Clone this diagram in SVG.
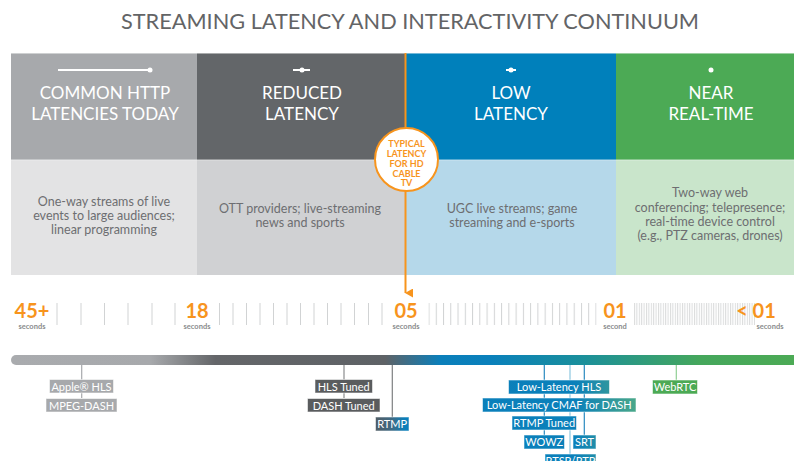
<svg xmlns="http://www.w3.org/2000/svg" width="794" height="461" viewBox="0 0 794 461">
<defs>
<style>
.t{font-family:Lato,"Open Sans","Liberation Sans",sans-serif}
.hd{font-size:17px;fill:#fff;text-anchor:middle}
.bd{font-size:12.5px;fill:#6d6e71;text-anchor:middle}
.num{font-size:20px;font-weight:bold;fill:#f7941d;text-anchor:middle}
.sec{font-size:7.5px;font-weight:bold;fill:#8a8c8e;text-anchor:middle}
.lb{font-size:11px;fill:#fff;text-anchor:middle}
.box{stroke:#fff;stroke-opacity:.55;stroke-width:1}
.cv{font-size:9px;font-weight:bold;fill:#f7941d;text-anchor:middle}
</style>
<linearGradient id="bar" gradientUnits="userSpaceOnUse" x1="11" y1="0" x2="794" y2="0">
<stop offset="0" stop-color="#a9abae"/>
<stop offset="0.178" stop-color="#a7a9ac"/>
<stop offset="0.261" stop-color="#646669"/>
<stop offset="0.478" stop-color="#5e6266"/>
<stop offset="0.548" stop-color="#0b7fba"/>
<stop offset="0.612" stop-color="#0a80bb"/>
<stop offset="0.727" stop-color="#1a8f9c"/>
<stop offset="0.88" stop-color="#45a75c"/>
<stop offset="1" stop-color="#4caa55"/>
</linearGradient>
<linearGradient id="lbg" gradientUnits="userSpaceOnUse" x1="370" y1="0" x2="640" y2="0">
<stop offset="0" stop-color="#58595b"/>
<stop offset="0.081" stop-color="#3d6a85"/>
<stop offset="0.13" stop-color="#0a7fbb"/>
<stop offset="0.759" stop-color="#0b80ba"/>
<stop offset="1" stop-color="#4daa86"/>
</linearGradient>
<pattern id="dense" patternUnits="userSpaceOnUse" x="634" y="303" width="2.4" height="22">
<rect x="0" y="0" width="1" height="22" fill="#d9dadb"/>
</pattern>
<pattern id="mid" patternUnits="userSpaceOnUse" x="428.5" y="303" width="7.26" height="22">
<rect x="0" y="0" width="1" height="22" fill="#d1d3d4"/>
</pattern>
<marker id="arr" markerWidth="9" markerHeight="8" refX="4.5" refY="7.5" orient="auto" markerUnits="userSpaceOnUse" viewBox="0 0 9 8">
<path d="M0 0H9L4.5 8Z" fill="#f7941d"/>
</marker>
</defs>
<rect width="794" height="461" fill="#fff"/>

<text class="t" x="410" y="29" font-size="22" fill="#636466" text-anchor="middle" textLength="578" lengthAdjust="spacingAndGlyphs">STREAMING LATENCY AND INTERACTIVITY CONTINUUM</text>

<g id="col-common">
<rect x="11" y="53" width="186" height="107" fill="#a7a9ac"/>
<rect x="11" y="160" width="186" height="115" fill="#e3e3e4"/>
<line x1="58" y1="70" x2="150" y2="70" stroke="#fff" stroke-width="2"/>
<circle cx="150" cy="70" r="2.5" fill="#fff"/>
<text class="t hd" x="105" y="99">COMMON HTTP</text>
<text class="t hd" x="105" y="120">LATENCIES TODAY</text>
<text class="t bd" x="104" y="206">One-way streams of live</text>
<text class="t bd" x="104" y="220">events to large audiences;</text>
<text class="t bd" x="104" y="234">linear programming</text>
</g>

<g id="col-reduced">
<rect x="197" y="53" width="209" height="107" fill="#636669"/>
<rect x="197" y="160" width="209" height="115" fill="#d0d1d3"/>
<line x1="293" y1="70" x2="310" y2="70" stroke="#fff" stroke-width="2"/>
<circle cx="302" cy="70" r="2.5" fill="#fff"/>
<text class="t hd" x="302" y="99">REDUCED</text>
<text class="t hd" x="302" y="120">LATENCY</text>
<text class="t bd" x="300" y="213">OTT providers; live-streaming</text>
<text class="t bd" x="300" y="227">news and sports</text>
</g>

<g id="col-low">
<rect x="406" y="53" width="210" height="107" fill="#0080bb"/>
<rect x="406" y="160" width="210" height="115" fill="#b5d8ea"/>
<line x1="506" y1="70" x2="516" y2="70" stroke="#fff" stroke-width="2"/>
<circle cx="511" cy="70" r="2.5" fill="#fff"/>
<text class="t hd" x="511" y="99">LOW</text>
<text class="t hd" x="511" y="120">LATENCY</text>
<text class="t bd" x="512" y="213">UGC live streams; game</text>
<text class="t bd" x="512" y="227">streaming and e-sports</text>
</g>

<g id="col-near">
<rect x="616" y="53" width="178" height="107" fill="#4caa55"/>
<rect x="616" y="160" width="178" height="115" fill="#c9e5cb"/>
<circle cx="711" cy="70" r="2.5" fill="#fff"/>
<text class="t hd" x="711" y="99">NEAR</text>
<text class="t hd" x="711" y="120">REAL-TIME</text>
<text class="t bd" x="710" y="197">Two-way web</text>
<text class="t bd" x="710" y="212">conferencing; telepresence;</text>
<text class="t bd" x="710" y="226">real-time device control</text>
<text class="t bd" x="710" y="240">(e.g., PTZ cameras, drones)</text>
</g>
<rect x="11" y="53" width="783" height="1" fill="#fff" fill-opacity=".45"/>
<rect x="11" y="159" width="783" height="1.5" fill="#fff" fill-opacity=".35"/>

<g id="cable-tv">
<line x1="405.5" y1="53" x2="405.5" y2="293" stroke="#f7941d" stroke-width="2" marker-end="url(#arr)"/>
<circle cx="406.5" cy="159.5" r="31.5" fill="#fff" stroke="#f7941d" stroke-width="2"/>
<text class="t cv" x="406.5" y="146.5">TYPICAL</text>
<text class="t cv" x="406.5" y="156.5">LATENCY</text>
<text class="t cv" x="406.5" y="166.5">FOR HD</text>
<text class="t cv" x="406.5" y="176.5">CABLE</text>
<text class="t cv" x="406.5" y="186">TV</text>
</g>

<g id="scale">
<path d="M57 303V325M81 303V325M104.5 303V325M128 303V325M152 303V325M175 303V325M219.5 303V325M233 303V325M246.5 303V325M260 303V325M273.5 303V325M287 303V325M300.5 303V325M314 303V325M327.5 303V325M341 303V325M354.5 303V325M368.5 303V325M382 303V325" stroke="#d1d3d4" stroke-width="1"/>
<rect x="428.5" y="303" width="168" height="22" fill="url(#mid)"/>
<rect x="634" y="303" width="121" height="22" fill="url(#dense)"/>
<text class="t num" x="32" y="318">45+</text>
<text class="t sec" x="32" y="329">seconds</text>
<text class="t num" x="197" y="318">18</text>
<text class="t sec" x="197" y="329">seconds</text>
<text class="t num" x="406" y="318">05</text>
<text class="t sec" x="406" y="329">seconds</text>
<text class="t num" x="615" y="318">01</text>
<text class="t sec" x="615" y="329">second</text>
<text class="t num" x="756" y="318" text-anchor="start">&lt; 01</text>
<text class="t sec" x="770" y="329" text-anchor="start">seconds</text>
<rect x="11" y="355" width="790" height="10" rx="5" fill="url(#bar)"/>
</g>

<g id="connectors" stroke-width="1.2">
<line x1="81.7" y1="365" x2="81.7" y2="398" stroke="#a7a9ac"/>
<line x1="344" y1="365" x2="344" y2="398" stroke="#8a8c8e"/>
<line x1="392.3" y1="365" x2="392.3" y2="417" stroke="#7d7f81"/>
<line x1="544.3" y1="365" x2="544.3" y2="435" stroke="#2a8ac0"/>
<line x1="570" y1="365" x2="570" y2="454" stroke="#8cc6df"/>
<line x1="584.3" y1="365" x2="584.3" y2="435" stroke="#2a8ac0"/>
<line x1="676.3" y1="365" x2="676.3" y2="380" stroke="#8fcf93"/>
</g>

<g id="apple-hls"><rect class="box" x="49.5" y="379.5" width="64" height="13.5" fill="#a7a9ac"/><text class="t lb" x="81.5" y="390.5">Apple® HLS</text></g>
<g id="mpeg-dash"><rect class="box" x="46" y="398.5" width="71" height="13.5" fill="#a7a9ac"/><text class="t lb" x="81.5" y="409.5">MPEG-DASH</text></g>
<g id="hls-tuned"><rect class="box" x="315" y="379.5" width="57.5" height="13.5" fill="#5a5c5e"/><text class="t lb" x="343.7" y="390.5">HLS Tuned</text></g>
<g id="dash-tuned"><rect class="box" x="307.5" y="398.5" width="72.5" height="13.5" fill="#5a5c5e"/><text class="t lb" x="343.7" y="409.5">DASH Tuned</text></g>
<g id="rtmp"><rect class="box" x="375.5" y="417" width="33.5" height="14" fill="url(#lbg)"/><text class="t lb" x="392.2" y="428">RTMP</text></g>
<g id="ll-hls"><rect class="box" x="508.5" y="380" width="101" height="14" fill="url(#lbg)"/><text class="t lb" x="559" y="391">Low-Latency HLS</text></g>
<g id="ll-cmaf"><rect class="box" x="482.5" y="398" width="153.5" height="14" fill="url(#lbg)"/><text class="t lb" x="559.2" y="409">Low-Latency CMAF for DASH</text></g>
<g id="rtmp-tuned"><rect class="box" x="512" y="416" width="64.5" height="14" fill="url(#lbg)"/><text class="t lb" x="544.2" y="427">RTMP Tuned</text></g>
<g id="wowz"><rect class="box" x="524" y="435" width="40.5" height="14" fill="url(#lbg)"/><text class="t lb" x="544.2" y="446">WOWZ</text></g>
<g id="srt"><rect class="box" x="573" y="435" width="23" height="14" fill="url(#lbg)"/><text class="t lb" x="584.5" y="446">SRT</text></g>
<g id="rtsp-rtp"><rect class="box" x="545" y="454" width="51" height="14" fill="url(#lbg)"/><text class="t lb" x="570.5" y="465">RTSP/RTP</text></g>
<g id="webrtc"><rect class="box" x="652.5" y="380" width="45" height="14" fill="#4caa55"/><text class="t lb" x="675" y="391">WebRTC</text></g>
</svg>
